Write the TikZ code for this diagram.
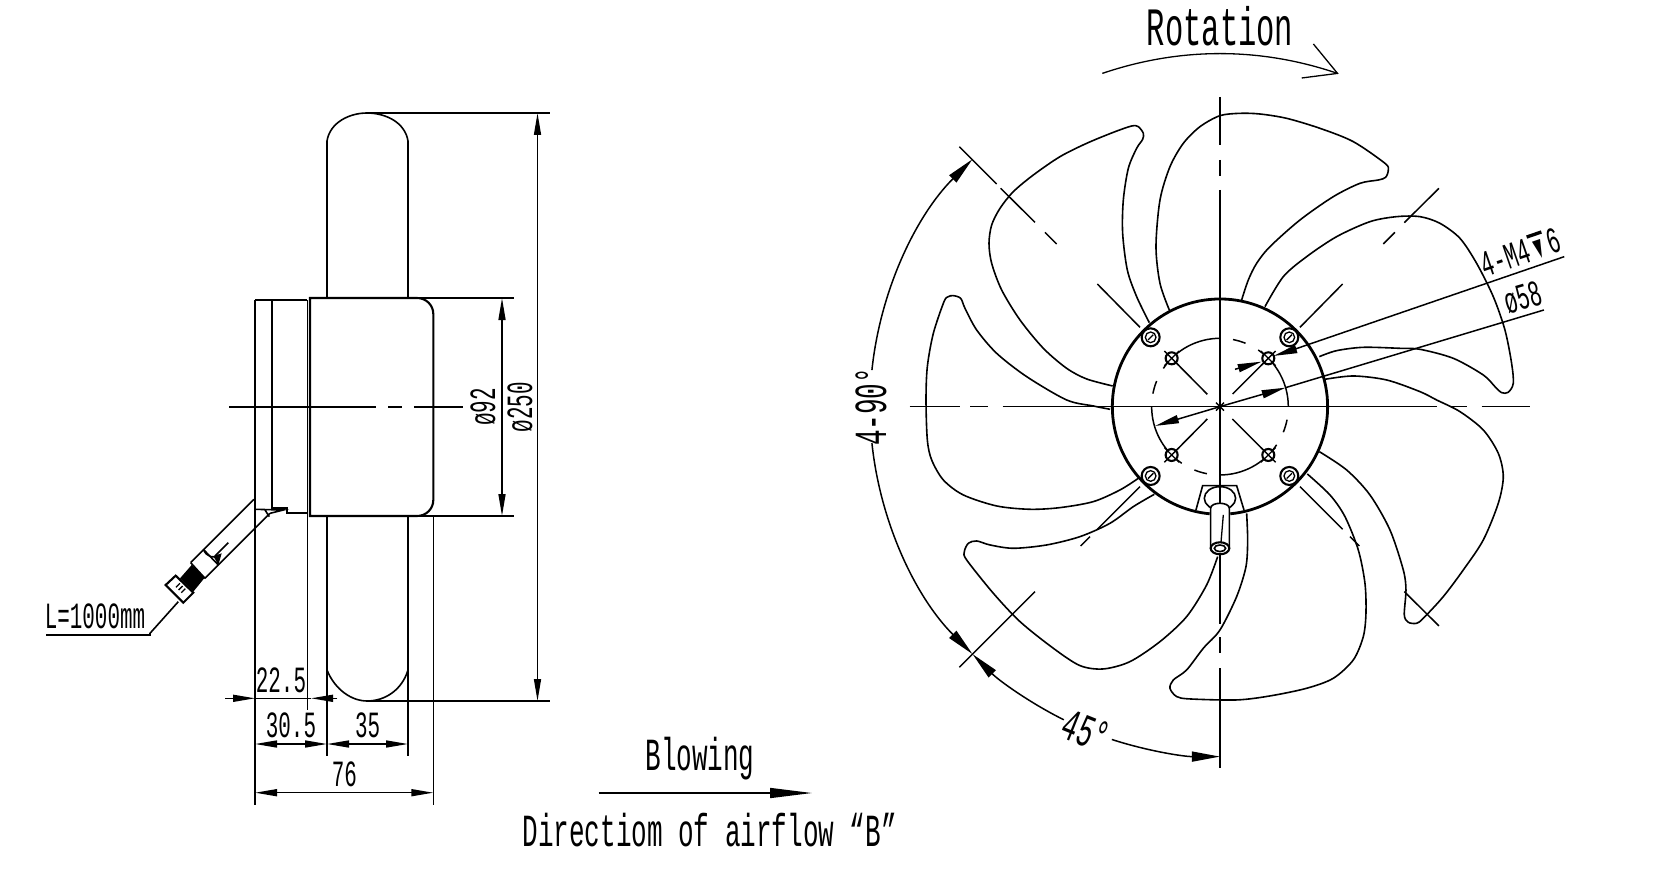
\documentclass[tikz,border=0pt]{standalone}
\usepackage{fontspec}
\usetikzlibrary{arrows.meta}
\newfontfamily\cadfont[FakeStretch=0.565]{Liberation Mono}
\newcommand{\depthmark}{\hspace{.05em}\ooalign{\hfil\rule[.62em]{.42em}{.09em}\hfil\cr\hfil\scalebox{.7}[.9]{▼}\hfil\cr}\hspace{.05em}}
\tikzset{
  part/.style={line width=1.6pt},
  motorline/.style={line width=2.1pt},
  thinline/.style={line width=1.3pt},
  dimline/.style={line width=1.5pt},
  dimboth/.style={dimline,{Triangle[length=22pt,width=7pt]}-{Triangle[length=22pt,width=7pt]}},
  dimtip/.style={dimline,-{Triangle[length=24pt,width=8pt]}},
  bigtip/.style={dimline,-{Triangle[length=28pt,width=10pt]}},
  bladeline/.style={line width=1.6pt,line join=round},
  hubline/.style={line width=2.8pt},
  bigtext/.style={inner sep=0pt,font=\cadfont\fontsize{54}{60}\selectfont},
  midtext/.style={inner sep=0pt,font=\cadfont\fontsize{46}{50}\selectfont},
  dimtext/.style={inner sep=0pt,font=\cadfont\fontsize{37}{40}\selectfont}
}
\begin{document}
\begin{tikzpicture}[x=1pt,y=-1pt]
  \useasboundingbox (0,0) rectangle (1675,885);
  \draw[bladeline] (327,298) -- (327,141) .. controls (330,122) and (350,113) .. (367,113)
        .. controls (385,113) and (405,122) .. (408,141) -- (408,298);
  \draw[bladeline] (327,516) -- (327,756);
  \draw[bladeline] (408,516) -- (408,756);
  \draw[bladeline] (327,670) .. controls (335,690) and (352,701) .. (367,701)
        .. controls (385,701) and (402,690) .. (408,670);
  \draw[motorline] (310,298) -- (417,298) .. controls (426,298) and (433.3,305) .. (433.3,314)
        -- (433.3,500) .. controls (433.3,509) and (426,516) .. (417,516) -- (310,516) -- cycle;
  \draw[thinline] (255,300) -- (255,470);
  \draw[part] (255,470) -- (255,805);
  \draw[thinline] (255,300) -- (307.3,300);
  \draw[thinline] (307.3,300) -- (307.3,710);
  \draw[motorline] (271.7,300) -- (271.7,507.7) -- (287,507.7) -- (287,513.3) -- (291,513.3) -- (307.3,513.3);
  \draw[part] (433.3,516) -- (433.3,805);
  \draw[part] (229,407) -- (376.3,407) (388,407) -- (401.5,407) (413.8,407) -- (463,407);
  \draw[dimline] (408,298) -- (514,298) (417,516) -- (514,516);
  \draw[dimline] (367,113) -- (550,113) (367,701) -- (550,701);
  \draw[dimboth] (502,298) -- (502,516);
  \draw[dimboth] (537.5,113) -- (537.5,701);
  \node[dimtext,rotate=90] (dia92) at (483,407) {ø92};
  \node[dimtext,rotate=90] (dia250) at (520,407) {ø250};
  \draw[dimline,-{Triangle[length=22pt,width=7pt]}] (225,698.3) -- (255,698.3);
  \draw[dimline,-{Triangle[length=22pt,width=7pt]}] (337.3,698.3) -- (311,698.3);
  \draw[dimline] (255,698.3) -- (311,698.3);
  \draw[dimboth] (255,744) -- (327,744);
  \draw[dimboth] (327,744) -- (408,744);
  \draw[dimboth] (255,792.7) -- (433.3,792.7);
  \node[dimtext] (len225) at (281,680) {22.5};
  \node[dimtext] (len305) at (291,725) {30.5};
  \node[dimtext] (len35) at (367.7,725) {35};
  \node[dimtext] (len76) at (344.3,774) {76};
  \begin{scope}[shift={(150,470)},scale=0.3333]
    \draw[part] (312,88) -- (122,278) (360,130) -- (165,325);
    \draw[part] (122,278) -- (165,325) (160,238) -- (205,285);
    \draw[part] (318,118) -- (400,120) -- (360,130) (345,120) -- (358,140);
    \draw[part] (160,238) .. controls (170,262) and (190,265) .. (210,258);
    \draw[part] (235,218) -- (195,258);
    \fill (215,250) -- (190,258) -- (205,285) -- cycle;
    \fill (90,325) -- (125,285) -- (165,322) -- (130,365) -- cycle;
    \draw[motorline,fill=white] (47,345) -- (77,317) -- (130,368) -- (100,398) -- cycle;
    \draw[thinline] (78,352) -- (90,340) (86,360) -- (98,348) (94,368) -- (106,356);
    \draw[part] (85,395) -- (0,490);
  \end{scope}
  \draw[part] (150,633.3) -- (150,635) -- (45.5,635);
  \node[dimtext] (cablelen) at (95,616) {L=1000mm};
  \node[midtext] (blowing) at (700,759) {Blowing};
  \draw[dimline,-{Triangle[length=42pt,width=10pt]}] (598.5,793) -- (812,793);
  \node[midtext] (airflow) at (709.6,830) {Directiom of airflow “B”};
  \node[bigtext] (rotation) at (1220,26.5) {Rotation};
  \coordinate (rotstart) at (1102.3,73.4);
  \coordinate (rottip) at (1337.5,73.4);
  \draw[thinline] (rotstart) .. controls (1180,47) and (1260,47) .. (rottip);
  \draw[thinline] (1313.4,44) -- (rottip) -- (1301.7,78);
  \begin{scope}[shift={(920,100)},scale=0.3333]
    \draw[bladeline] plot[smooth] coordinates {(688,668) (650,590) (622,510) (608,400) (610,300) (625,205) (650,145) (668,118) (670,100) (655,80) (635,78) (580,97) (500,130) (420,170) (340,225) (280,275) (240,325) (215,375) (207,430) (215,490) (245,570) (300,660) (370,745) (440,805) (500,837) (578,858)};
    \draw[bladeline] plot[smooth] coordinates {(748,630) (720,550) (708,440) (720,300) (750,200) (790,130) (840,80) (900,47) (960,40) (1020,42) (1100,55) (1200,85) (1300,125) (1395,190) (1405,210) (1397,232) (1375,240) (1320,250) (1240,290) (1140,360) (1050,440) (1010,490) (985,540) (965,600)};
    \draw[bladeline] plot[smooth] coordinates {(1035,620) (1090,530) (1160,470) (1250,410) (1350,365) (1430,350) (1500,350) (1560,370) (1620,415) (1670,490) (1720,590) (1755,690) (1775,790) (1780,850) (1765,877) (1745,878) (1725,860) (1690,825) (1600,775) (1500,748) (1440,745) (1330,742) (1250,752) (1198,770)};
    \draw[bladeline] plot[smooth] coordinates {(1215,838) (1300,828) (1400,840) (1500,875) (1550,900) (1620,935) (1690,990) (1735,1060) (1750,1130) (1735,1210) (1690,1320) (1630,1410) (1570,1490) (1510,1555) (1490,1570) (1465,1567) (1453,1545) (1458,1470) (1450,1410) (1410,1290) (1350,1185) (1280,1110) (1198,1055)};
    \draw[bladeline] plot[smooth] coordinates {(1162,1122) (1230,1185) (1275,1250) (1315,1350) (1335,1450) (1338,1540) (1330,1610) (1300,1680) (1240,1735) (1160,1765) (1050,1788) (950,1800) (810,1797) (770,1790) (750,1765) (760,1740) (800,1710) (850,1645) (900,1590) (950,1490) (978,1400) (983,1320) (980,1240)};
    \draw[bladeline] plot[smooth] coordinates {(893,1370) (860,1455) (800,1550) (720,1625) (630,1685) (550,1707) (480,1697) (400,1645) (300,1565) (220,1480) (140,1380) (133,1355) (145,1330) (170,1323) (210,1335) (280,1345) (380,1335) (480,1310) (570,1270) (640,1220) (703,1183)};
    \draw[bladeline] plot[smooth] coordinates {(655,1135) (600,1170) (520,1205) (420,1223) (330,1228) (230,1218) (130,1185) (70,1140) (35,1080) (22,1020) (18,900) (22,800) (40,700) (72,605) (85,590) (100,587) (122,595) (135,625) (170,690) (230,760) (320,830) (440,900) (520,918) (570,928)};
    \draw[part] (-31,920) -- (120,920) (150,920) -- (205,920) (248,920) -- (1550,920) (1590,920) -- (1640,920) (1685,920) -- (1830,920);
    \draw[motorline] (900,-9) -- (900,135) (900,180) -- (900,228) (900,270) -- (900,1572) (900,1612) -- (900,1660) (900,1705) -- (900,2005);
    \draw[dimline] (118,140) -- (230,252) (242,265) -- (345,367) (375,397) -- (410,432) (532,552) -- (660,682) (770,790) -- (862,883);
    \draw[dimline] (1557,265) -- (1453,368) (1425,397) -- (1390,432) (1268,552) -- (1140,682) (1030,790) -- (938,882);
    \draw[dimline] (1140,1160) -- (1268,1288) (1290,1310) -- (1318,1338) (1453,1475) -- (1557,1578) (937,957) -- (1030,1050);
    \draw[dimline] (660,1160) -- (532,1288) (510,1310) -- (482,1338) (345,1475) -- (118,1702) (862,957) -- (770,1050);
    \foreach \a in {0,90,180,270} {
      \draw[dimline] (900,920) ++({-\a}:205) arc[start angle={-\a},end angle={-\a-56},radius=205];
      \draw[dimline] (900,920) ++({-\a-68}:205) arc[start angle={-\a-68},end angle={-\a-79},radius=205];
    }
    \draw[hubline] (900,920) ++(84.5:323) arc[start angle=84.5,end angle=-264.5,radius=323];
    \foreach \hx/\hy in {755/775,1045/775,755/1065,1045/1065} {
      \draw[motorline,fill=white] (\hx,\hy) circle[radius=18];
      \draw[thinline] (\hx-22,\hy-22) -- (\hx+22,\hy+22) (\hx-22,\hy+22) -- (\hx+22,\hy-22);
    }
    \foreach \sx/\sy in {692/712,1108/712,692/1128,1108/1128} {
      \draw[motorline,fill=white] (\sx,\sy) circle[radius=27];
      \draw[thinline] (\sx,\sy) circle[radius=16];
      \draw[thinline] (\sx-8,\sy+8) -- (\sx+8,\sy-8);
    }
    \draw[part] (828,1230) -- (848,1157) -- (950,1157) -- (972,1230);
    \draw[part] (900,1195) ellipse[x radius=47,y radius=35];
    \draw[part,fill=white] (872,1345) -- (872,1225) .. controls (872,1205) and (928,1205) .. (928,1225) -- (928,1345) -- cycle;
    \draw[thinline] (910,1245) -- (902,1340);
    \draw[motorline,fill=white] (900,1345) ellipse[x radius=28,y radius=18];
    \draw[part] (900,1345) ellipse[x radius=17,y radius=10];
    \draw[thinline] (888,908) -- (912,932) (888,932) -- (912,908);
    \draw[bigtip] (900,920) ++(-174:1050) arc[start angle=-174,end angle=-135,radius=1050];
    \draw[bigtip] (900,920) ++(-186:1050) arc[start angle=-186,end angle=-225,radius=1050];
    \draw[bigtip] (900,920) ++(-243.5:1050) arc[start angle=-243.5,end angle=-225,radius=1050];
    \draw[bigtip] (900,920) ++(-252:1050) arc[start angle=-252,end angle=-270,radius=1050];
    \draw[dimline] (1933,470) -- (1100,756);
    \draw[dimtip] (1100,756) -- (1060,768);
    \draw[dimtip] (945,808) -- (1025,785);
    \draw[dimtip] (900,920) -- (1097,863);
    \draw[dimtip] (900,920) -- (705,978);
    \draw[dimline] (1097,863) -- (1872,630);
  \end{scope}
  \node[midtext,rotate=90] (angle90) at (871,407) {4-90°};
  \node[midtext,rotate=-22] (angle45) at (1086,731) {45°};
  \node[dimtext,rotate=19] (threadlabel) at (1520,251.7) {4-M4\depthmark 6};
  \node[dimtext,rotate=16.5] (dia58) at (1522.7,297.3) {ø58};
\end{tikzpicture}
\end{document}
